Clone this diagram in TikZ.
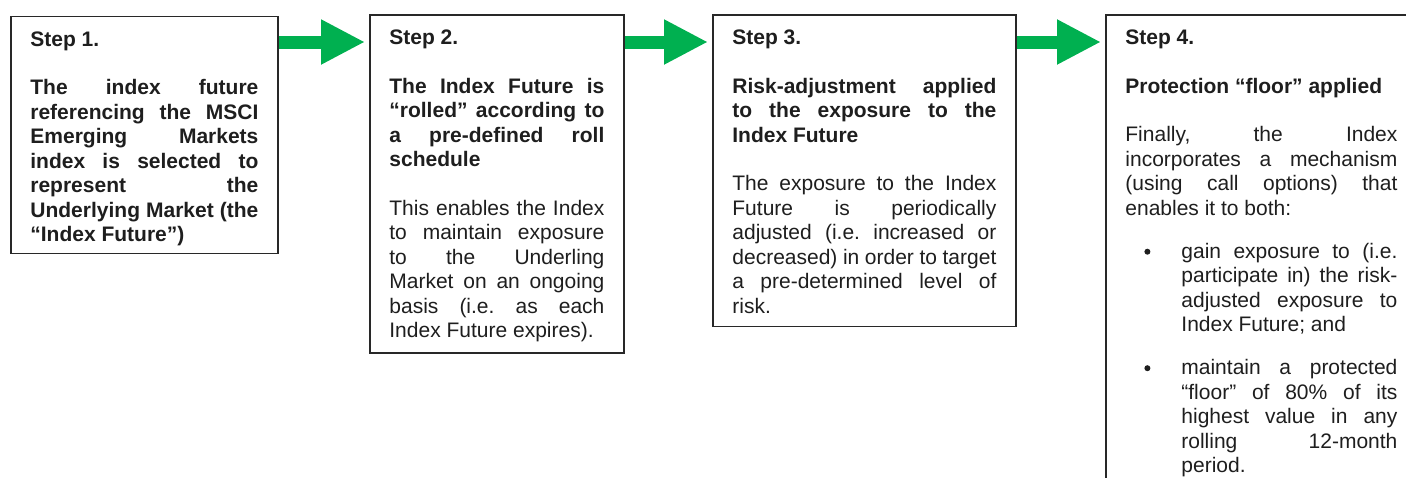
\documentclass[tikz,border=0pt]{standalone}
\usepackage{fontspec}
\setmainfont{Liberation Sans}
\usetikzlibrary{arrows.meta}

\definecolor{boxline}{RGB}{40,40,40}
\definecolor{txt}{RGB}{30,30,30}
\definecolor{flowgreen}{RGB}{0,176,80}

\newcommand{\stepfont}{\fontsize{21pt}{24.5pt}\selectfont\frenchspacing
  \tolerance=10000\hbadness=10000\hyphenpenalty=10000\exhyphenpenalty=10000}
\newcommand{\gap}{\par\vspace{24pt}}
\newcommand{\bdot}{\tikz[baseline=-6.7pt]\fill[txt] (0pt,0pt) circle[radius=3pt];}
\newcommand{\bitem}{\par\vspace{18.5pt}\leftskip=56pt\noindent\llap{\bdot\hspace{31pt}}}

\tikzset{
  stepbox/.style={draw=boxline,line width=1.8pt,anchor=north west,align=justify,
    inner xsep=19.5pt,inner ysep=0pt,text height=30pt,text=txt,font=\stepfont},
  flow/.style={draw=flowgreen,line width=13pt,
    -{Triangle[length=44pt,width=42pt]},shorten >=4pt}
}

\begin{document}
\begin{tikzpicture}[x=1pt,y=-1pt]
  \useasboundingbox (0,0) rectangle (1406,477);

  % Specification of nodes (position, etc.)
  \node[stepbox,text width=228pt,text depth=207pt] (b1) at (10,15.5)
    {\bfseries Step 1.\gap
     The index future\linebreak referencing the MSCI\linebreak
     Emerging Markets\linebreak index is selected to\linebreak
     represent the\linebreak Underlying Market (the\linebreak
     “Index Future”)};
  \node[stepbox,text width=215pt,text depth=308pt] (b2) at (369,14)
    {\bfseries Step 2.\gap
     The Index Future is\linebreak “rolled” according to\linebreak
     a pre-defined roll\linebreak schedule\gap
     \mdseries This enables the Index\linebreak to maintain exposure\linebreak
     to the Underling\linebreak Market on an ongoing\linebreak
     basis (i.e. as each\linebreak Index Future expires).};
  \node[stepbox,text width=264pt,text depth=281.5pt] (b3) at (712,14)
    {\bfseries Step 3.\gap
     Risk-adjustment applied\linebreak to the exposure to the\linebreak
     Index Future\gap
     \mdseries The exposure to the Index\linebreak Future is periodically\linebreak
     adjusted (i.e. increased or\linebreak decreased) in order to target\linebreak
     a pre-determined level of\linebreak risk.};
  \node[stepbox,text width=272pt,text depth=500pt] (b4) at (1105,14)
    {\bfseries Step 4.\gap
     Protection “floor” applied\gap
     \mdseries Finally, the Index\linebreak incorporates a mechanism\linebreak
     (using call options) that\linebreak enables it to both:
     \bitem gain exposure to (i.e.\linebreak participate in) the risk-\linebreak
     adjusted exposure to\linebreak Index Future; and
     \bitem maintain a protected\linebreak “floor” of 80\% of its\linebreak
     highest value in any\linebreak rolling 12-month\linebreak period.\par};

  % Block arrows between the steps
  \draw[flow] ([yshift=-26.5pt]b1.north east) -- ([yshift=-28pt]b2.north west);
  \draw[flow] ([yshift=-28pt]b2.north east) -- ([yshift=-28pt]b3.north west);
  \draw[flow] ([yshift=-28pt]b3.north east) -- ([yshift=-28pt]b4.north west);

\end{tikzpicture}
\end{document}
